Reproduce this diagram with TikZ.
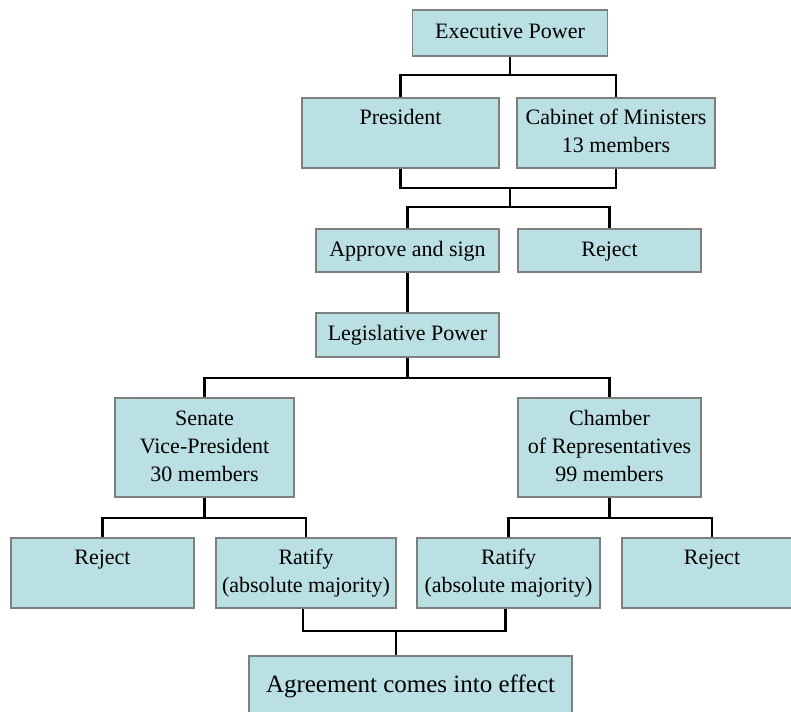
\documentclass[tikz,border=0pt]{standalone}
\usepackage{fontspec}
\setmainfont{Liberation Serif}
\definecolor{boxfill}{HTML}{BAE0E4}
\definecolor{boxline}{HTML}{7F7F7F}
\begin{document}
\begin{tikzpicture}[x=1pt, y=-1pt,
    box/.style={draw=boxline, fill=boxfill, line width=1.8pt, inner sep=0pt, align=center,
        font=\fontsize{22}{28}\selectfont},
    link/.style={line width=2.2pt, black}]
    \path[use as bounding box, clip] (0,0) rectangle (791,711);

    % Executive
    \node[box, minimum width=195, minimum height=46] (exec) at (510,33) {\strut Executive Power};
    \node[box, minimum width=197, minimum height=70] (pres) at (400.5,133) {\strut President\\\strut};
    \node[box, minimum width=198, minimum height=70] (cab) at (616,133) {\strut Cabinet of Ministers\\\strut 13 members};
    \node[box, minimum width=183, minimum height=43] (sign) at (407.5,250.5) {\strut Approve and sign};
    \node[box, minimum width=183, minimum height=43] (rejexec) at (609.5,250.5) {\strut Reject};

    % Legislative
    \node[box, minimum width=183, minimum height=44] (legis) at (407.5,335) {\strut Legislative Power};
    \node[box, minimum width=179, minimum height=99] (senate) at (204.5,447.5) {\strut Senate\\\strut Vice-President\\\strut 30 members};
    \node[box, minimum width=183, minimum height=99] (chamber) at (609.5,447.5) {\strut Chamber\\\strut of Representatives\\\strut 99 members};
    \node[box, minimum width=183, minimum height=70] (rejsen) at (102.5,573) {\strut Reject\\\strut};
    \node[box, minimum width=180, minimum height=70] (ratsen) at (306,573) {\strut Ratify\\\strut (absolute majority)};
    \node[box, minimum width=183, minimum height=70] (ratcha) at (508.5,573) {\strut Ratify\\\strut (absolute majority)};
    \node[box, minimum width=180, minimum height=70] (rejcha) at (712,573) {\strut Reject\\\strut};
    \node[box, minimum width=323, minimum height=60, font=\fontsize{25}{32}\selectfont] (effect) at (410.5,686) {\strut Agreement comes into effect};

    % forks
    \coordinate (fexec) at (510,75);
    \coordinate (jexec) at (510,188);
    \coordinate (fdec) at (510,207);
    \coordinate (flegis) at (407.5,378);
    \coordinate (fsen) at (204.5,518);
    \coordinate (fcha) at (609.5,518);
    \coordinate (jrat) at (396,631);

    % connectors
    \draw[link] (exec) -- (fexec);
    \draw[link] (pres.north) |- (fexec) -| (cab.north);
    \draw[link] (pres.south) |- (jexec) -| (cab.south);
    \draw[link] (jexec) -- (fdec);
    \draw[link] (sign.north) |- (fdec) -| (rejexec.north);
    \draw[link] (sign) -- (legis);
    \draw[link] (legis) -- (flegis);
    \draw[link] (senate.north) |- (flegis) -| (chamber.north);
    \draw[link] (senate) -- (fsen);
    \draw[link] (rejsen.north) |- (fsen) -| (ratsen.north);
    \draw[link] (chamber) -- (fcha);
    \draw[link] (ratcha.north) |- (fcha) -| (rejcha.north);
    \draw[link] ([xshift=-3]ratsen.south) |- (jrat) -| ([xshift=-3]ratcha.south);
    \draw[link] (jrat) -- (jrat |- effect.north);

\end{tikzpicture}
\end{document}
